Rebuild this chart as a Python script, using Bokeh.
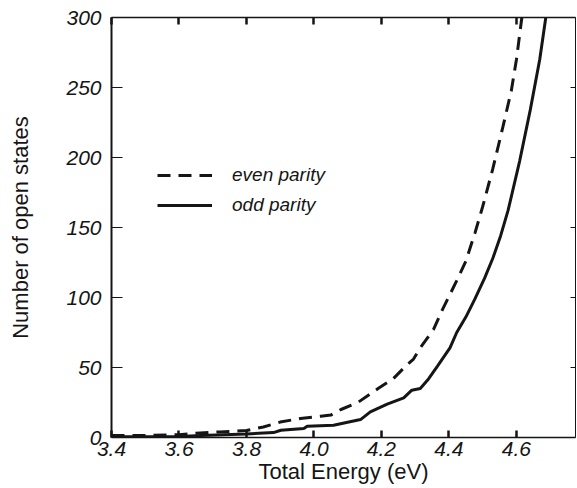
from bokeh.plotting import figure
from bokeh.models import (LinearAxis, FixedTicker, Range1d, Legend, LegendItem,
                          NumeralTickFormatter, CustomLabelingPolicy)
from bokeh.embed import file_html
from bokeh.resources import INLINE

# ---- data ----
even_x = [3.40, 3.50, 3.60, 3.65, 3.72, 3.80, 3.85, 3.90, 3.96, 4.02, 4.05, 4.08,
          4.13, 4.19, 4.235, 4.276, 4.295, 4.315, 4.354, 4.38, 4.423, 4.45,
          4.477, 4.50, 4.53, 4.56, 4.585, 4.60, 4.616]
even_y = [1.5, 1.5, 2.0, 3.0, 4.0, 5.0, 7.5, 11.0, 13.6, 15.2, 16.0, 20.0,
          25.0, 35.0, 42.0, 52.0, 56.0, 64.0, 77.0, 91.0, 112.0, 126.0,
          146.0, 165.0, 192.0, 222.0, 248.0, 270.0, 300.0]

odd_x = [3.40, 3.50, 3.60, 3.665, 3.80, 3.88, 3.902, 3.97, 3.98, 4.058, 4.138,
         4.167, 4.217, 4.266, 4.29, 4.315, 4.34, 4.366, 4.403, 4.423, 4.45,
         4.477, 4.506, 4.53, 4.553, 4.575, 4.61, 4.641, 4.669, 4.687]
odd_y = [0.5, 0.5, 0.8, 1.5, 2.5, 3.5, 5.2, 6.4, 8.0, 8.8, 12.8,
         18.3, 23.8, 28.3, 33.8, 35.0, 42.0, 51.0, 64.0, 75.0, 86.0,
         99.0, 114.0, 128.0, 144.0, 162.0, 198.0, 234.0, 270.0, 300.0]

x_ticks = [3.4, 3.6, 3.8, 4.0, 4.2, 4.4, 4.6]
y_ticks = [0, 50, 100, 150, 200, 250, 300]
x_label = "Total Energy (eV)"
y_label = "Number of open states"
legend_labels = ["even parity", "odd parity"]

FONT = "Liberation Sans"
INK = "#151515"

p = figure(width=577, height=488, output_backend="svg", toolbar_location=None,
           x_range=Range1d(3.4, 4.775), y_range=Range1d(0, 300),
           x_axis_location=None, y_axis_location=None,
           min_border_left=111, min_border_right=2, min_border_top=17,
           min_border_bottom=51, background_fill_color=None,
           border_fill_color="white")
p.grid.visible = False
p.outline_line_color = None

# bottom axis
xa = LinearAxis(ticker=FixedTicker(ticks=x_ticks),
                formatter=NumeralTickFormatter(format="0.0"),
                axis_label=x_label)
xa.major_tick_in = 7
xa.major_tick_out = 0
xa.major_tick_line_width = 2.5
xa.major_tick_line_color = INK
xa.axis_line_width = 1.5
xa.axis_line_color = INK
xa.major_label_standoff = 4
xa.major_label_text_font = FONT
xa.major_label_text_font_style = "italic"
xa.major_label_text_font_size = "21px"
xa.major_label_text_color = INK
xa.axis_label_standoff = 0
xa.axis_label_text_font = FONT
xa.axis_label_text_font_style = "normal"
xa.axis_label_text_font_size = "22px"
xa.axis_label_text_color = INK
p.add_layout(xa, "below")

# left axis
ya = LinearAxis(ticker=FixedTicker(ticks=y_ticks), axis_label=y_label)
ya.major_tick_in = 11
ya.major_tick_out = 0
ya.major_tick_line_width = 1
ya.major_tick_line_color = INK
ya.axis_line_width = 2
ya.axis_line_color = INK
ya.major_label_standoff = 10
ya.major_label_text_font = FONT
ya.major_label_text_font_style = "italic"
ya.major_label_text_font_size = "21px"
ya.major_label_text_color = INK
ya.axis_label_standoff = 30
ya.axis_label_text_font = FONT
ya.axis_label_text_font_style = "normal"
ya.axis_label_text_font_size = "22px"
ya.axis_label_text_color = INK
p.add_layout(ya, "left")

no_labels = CustomLabelingPolicy(code="""
    for (const i of Array.from(indices)) {
        if (indices.unset) { indices.unset(i) } else { indices.set(i, false) }
    }
    return indices
""")

# top axis (ticks only)
ta = LinearAxis(ticker=FixedTicker(ticks=x_ticks), major_label_policy=no_labels)
ta.major_tick_in = 7
ta.major_tick_out = 0
ta.major_tick_line_width = 2.5
ta.major_tick_line_color = INK
ta.axis_line_width = 1.5
ta.axis_line_color = INK
ta.major_label_standoff = 0
ta.major_label_text_font_size = "0px"
p.add_layout(ta, "above")

# right axis (ticks only)
ra = LinearAxis(ticker=FixedTicker(ticks=y_ticks), major_label_policy=no_labels)
ra.major_tick_in = 5
ra.major_tick_out = 0
ra.major_tick_line_width = 1
ra.major_tick_line_color = INK
ra.axis_line_width = 1
ra.axis_line_color = INK
ra.major_label_standoff = 0
ra.major_label_text_font_size = "0px"
p.add_layout(ra, "right")

r_even = p.line(even_x, even_y, line_color=INK, line_width=3, line_dash="13 8")
r_odd = p.line(odd_x, odd_y, line_color=INK, line_width=3)

legend = Legend(items=[LegendItem(label=legend_labels[0], renderers=[r_even]),
                       LegendItem(label=legend_labels[1], renderers=[r_odd])],
                location=(46, 217), glyph_width=55, glyph_height=30,
                label_height=30, spacing=0, padding=0, margin=0,
                label_standoff=20, border_line_color=None,
                background_fill_alpha=0, label_text_font=FONT,
                label_text_font_style="italic", label_text_font_size="19px",
                label_text_color=INK)
p.add_layout(legend)

open("out.html", "w").write(file_html(p, INLINE))
